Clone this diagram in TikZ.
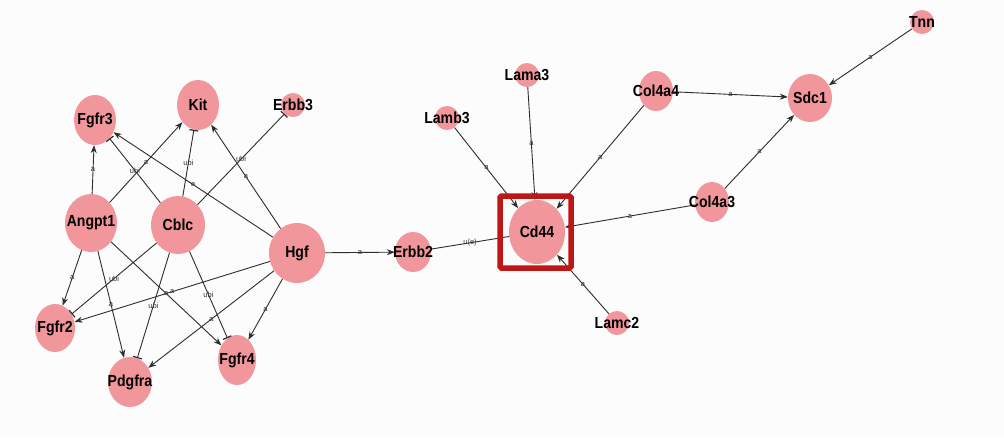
\documentclass[tikz,border=0pt]{standalone}
\usepackage{fontspec}
\setmainfont{Liberation Sans}
\usetikzlibrary{shapes.geometric,arrows.meta}
\definecolor{genefill}{RGB}{241,150,155}
\definecolor{edgecol}{RGB}{45,45,45}
\definecolor{hilite}{RGB}{190,22,20}
\definecolor{canvas}{RGB}{252,252,252}

% gene node: ellipse of given half-axes, label drawn separately on top
\newcommand{\gene}[5]{%
  \node[gene, minimum width={2*#4}, minimum height={2*#5}] (#1) at (#2,#3) {};}

\begin{document}
\begin{tikzpicture}[x=1pt,y=-1pt,
  gene/.style={ellipse, fill=genefill, inner sep=0pt},
  genetxt/.style={font=\bfseries\fontsize{16}{16}\selectfont, xscale=0.88, inner sep=0pt},
  rel/.style={draw=edgecol, line width=0.9pt},
  act/.style={rel, -{Stealth[length=8pt,width=6pt]}},
  inh/.style={rel, -{Bar[width=9pt,line width=1.2pt]}},
  lbl/.style={font=\fontsize{7.5}{7.5}\selectfont, text=black!80, inner sep=0.5pt},
]
\fill[canvas] (0,0) rectangle (1004,437);
\useasboundingbox (0,0) rectangle (1004,437);

% ---- genes ----
\gene{fgfr3}{95}{120}{21}{25}
\gene{kit}{198}{105}{21}{25}
\gene{erbb3}{293}{105}{12}{12}
\gene{angpt1}{91}{223}{26}{29}
\gene{cblc}{178}{225}{27}{29}
\gene{hgf}{297}{253}{28}{30}
\gene{fgfr2}{55}{328}{20}{24}
\gene{pdgfra}{130}{382}{22}{25}
\gene{fgfr4}{237}{360}{19}{25}
\gene{erbb2}{413}{252}{18}{20}
\gene{cd44}{537}{232}{28}{32}
\gene{lama3}{527}{75}{12}{12}
\gene{lamb3}{447}{118}{12}{12}
\gene{lamc2}{617}{323}{12}{12}
\gene{col4a4}{656}{91}{17}{20}
\gene{col4a3}{712}{202}{17}{20}
\gene{sdc1}{810}{98}{22}{24}
\gene{tnn}{922}{22}{12}{12}

% ---- left cluster ----
\draw[act] (angpt1) -- node[lbl]{a} (fgfr3);
\draw[act] (angpt1) -- node[lbl]{a} (kit);
\draw[inh] (cblc) -- node[lbl]{ubi} (fgfr3);
\draw[inh] (cblc) -- node[lbl]{ubi} (kit);
\draw[inh] (cblc) -- node[lbl]{ubi} (erbb3);
\draw[act] (hgf) -- node[lbl]{a} (kit);
\draw[act] (hgf) -- node[lbl]{a} (fgfr3);
\draw[act] (angpt1) -- node[lbl]{a} (fgfr2);
\draw[act] (angpt1) -- node[lbl]{a} (pdgfra);
\draw[act] (angpt1) -- node[lbl]{a} (fgfr4);
\draw[act] (hgf) -- node[lbl]{a} (fgfr2);
\draw[inh] (cblc) -- node[lbl]{ubi} (fgfr2);
\draw[inh] (cblc) -- node[lbl]{ubi} (pdgfra);
\draw[inh] (cblc) -- node[lbl]{ubi} (fgfr4);
\draw[act] (hgf) -- node[lbl]{a} (pdgfra);
\draw[act] (hgf) -- node[lbl]{a} (fgfr4);
\draw[act] (hgf) -- node[lbl]{a} (erbb2);

% ---- right cluster ----
\draw[rel] (erbb2) -- node[lbl]{u(e)} (cd44);
\draw[act] (lamb3) -- node[lbl]{a} (cd44);
\draw[act] (lama3) -- node[lbl]{a} (cd44);
\draw[act] (col4a4) -- node[lbl]{a} (cd44);
\draw[act] (col4a3) -- node[lbl]{a} (cd44);
\draw[act] (lamc2) -- node[lbl]{a} (cd44);
\draw[act] (col4a4) -- node[lbl]{a} (sdc1);
\draw[act] (col4a3) -- node[lbl]{a} (sdc1);
\draw[act] (tnn) -- node[lbl]{a} (sdc1);

% ---- gene labels ----
\foreach \g/\t in {fgfr3/Fgfr3, kit/Kit, erbb3/Erbb3, angpt1/Angpt1, cblc/Cblc,
  hgf/Hgf, fgfr2/Fgfr2, pdgfra/Pdgfra, fgfr4/Fgfr4, erbb2/Erbb2, cd44/Cd44,
  lama3/Lama3, lamb3/Lamb3, lamc2/Lamc2, col4a4/Col4a4, col4a3/Col4a3,
  sdc1/Sdc1, tnn/Tnn}
  \node[genetxt] (\g-t) at (\g) {\t};

% ---- highlight frame ----
\node[draw=hilite, line width=5.5pt, rounded corners=1.5pt, minimum width=71pt,
  minimum height=72pt, inner sep=0pt] (cd44box) at (535.5,232) {};
\end{tikzpicture}
\end{document}
